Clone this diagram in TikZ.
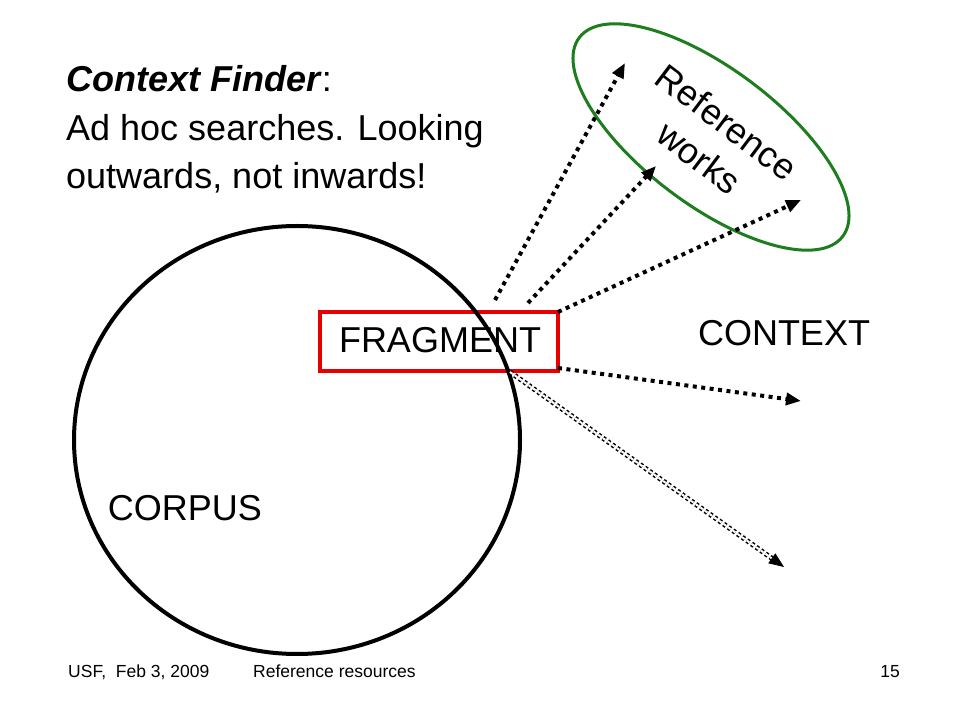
\documentclass[tikz,border=0pt]{standalone}
\usepackage{fontspec}
\setmainfont{Liberation Sans}
\usetikzlibrary{arrows.meta,shapes.geometric}
\definecolor{fragred}{RGB}{230,0,0}
\definecolor{refgreen}{RGB}{30,125,30}
\tikzset{
  big/.style={font=\fontsize{36}{43}\selectfont, inner sep=0pt},
  small/.style={font=\fontsize{17.5}{21}\selectfont, inner sep=0pt},
  tipstyle/.style={-{Triangle[length=15pt,width=12pt]}},
  dotarrow/.style={tipstyle, line width=4pt, dash pattern=on 4pt off 4.5pt},
  dblline/.style={line width=1.5pt, double distance=2pt, double=white, dash pattern=on 3pt off 2.7pt, shorten >=13pt},
  tiponly/.style={tipstyle, line width=1pt, dash pattern=on 0pt off 2000pt},
}
\begin{document}
\begin{tikzpicture}[x=1pt,y=1pt]
\useasboundingbox[fill=white] (0,0) rectangle (960,720);

% title text
\node[big, anchor=base west] (t1) at (66,628) {\textbf{\textit{Context Finder}}:};
\node[big, anchor=base west] (t2) at (66,579) {Ad hoc searches. Looking};
\node[big, anchor=base west] (t3) at (66,531) {outwards, not inwards!};

% fragment box
\node[big, draw=fragred, line width=4pt, minimum width=238pt, minimum height=59pt, anchor=center] (frag) at (439,378.5) {};
\node[big, anchor=base] (fragtxt) at (440,367) {FRAGMENT};

% corpus circle
\draw[line width=4pt] (297,280) ellipse [x radius=223pt, y radius=214pt];
\node[big, anchor=base] (corpus) at (185,199) {CORPUS};

% context
\node[big, anchor=base] (context) at (784,374) {CONTEXT};

% reference works ellipse
\draw[refgreen, line width=3pt, rotate around={-37:(711,583)}] (711,583) ellipse [x radius=165pt, y radius=68pt];
\node[rotate=-37, align=center, inner sep=0pt, font=\fontsize{36}{45}\selectfont] (refw) at (713,580) {Reference\\works};

% arrow coordinates
\coordinate (s1) at (495,420);
\coordinate (s2) at (528,417);
\coordinate (s3) at (558,408);
\coordinate (s4) at (558,352);
\coordinate (s5) at (510,348);
\coordinate (e1) at (625,657);
\coordinate (e2) at (656,554);
\coordinate (e3) at (801,520);
\coordinate (e4) at (801,319);
\coordinate (e5) at (784,153);

\draw[dotarrow] (s1) -- (e1);
\draw[dotarrow] (s2) -- (e2);
\draw[dotarrow] (s3) -- (e3);
\draw[dotarrow] (s4) -- (e4);
\draw[dblline] (s5) -- (e5);
\draw[tiponly] (s5) -- (e5);

% footer
\node[small, anchor=base west] (f1) at (68,43) {USF,\ \ Feb 3, 2009};
\node[small, anchor=base west] (f2) at (253,43) {Reference resources};
\node[small, anchor=base east] (f3) at (900,43) {15};
\end{tikzpicture}
\end{document}
